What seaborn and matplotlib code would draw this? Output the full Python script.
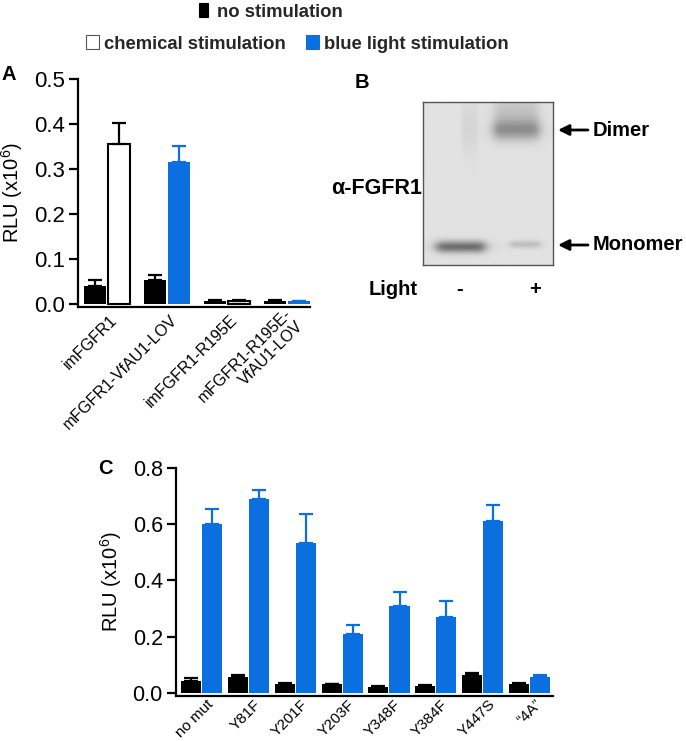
import numpy as np
import pandas as pd
import matplotlib
matplotlib.use("Agg")
import matplotlib.pyplot as plt
import seaborn as sns
from matplotlib.patches import Patch
from matplotlib.transforms import ScaledTranslation

# ---------------- data ----------------
a_groups = ["imFGFR1", "mFGFR1-VfAU1-LOV", "imFGFR1-R195E", "mFGFR1-R195E-\nVfAU1-LOV"]
a_none = [0.040, 0.053, 0.007, 0.006]
a_none_err = [0.014, 0.012, 0.002, 0.002]
a_stim = [0.355, 0.315, 0.007, 0.006]
a_stim_err = [0.047, 0.036, 0.002, 0.001]
a_stim_kind = ["chemical", "blue", "chemical", "blue"]

c_groups = ["no mut", "Y81F", "Y201F", "Y203F", "Y348F", "Y384F", "Y447S", "\u201c4A\u201d"]
c_none = [0.043, 0.058, 0.033, 0.030, 0.022, 0.026, 0.062, 0.033]
c_none_err = [0.009, 0.004, 0.002, 0.002, 0.001, 0.002, 0.008, 0.002]
c_blue = [0.600, 0.688, 0.535, 0.210, 0.310, 0.270, 0.613, 0.055]
c_blue_err = [0.055, 0.034, 0.102, 0.032, 0.050, 0.058, 0.057, 0.008]

legend_labels = ["no stimulation", "chemical stimulation", "blue light stimulation"]

# blot bands: x centre, half width, y centre from top, y sigma, darkness
blot_x = [0.29, 0.72, 0.72, 0.79, 0.36]
blot_hw = [0.19, 0.18, 0.17, 0.12, 0.06]
blot_y = [0.89, 0.17, 0.06, 0.875, 0.15]
blot_sy = [0.026, 0.045, 0.07, 0.016, 0.12]
blot_depth = [0.45, 0.30, 0.12, 0.14, 0.05]

BLUE = "#0b6fe0"
W, H = 686, 741

sns.set_theme(style="white")
plt.rcParams["font.family"] = ["Liberation Sans", "DejaVu Sans"]
plt.rcParams["mathtext.fontset"] = "custom"
plt.rcParams["mathtext.rm"] = "Liberation Sans"
plt.rcParams["mathtext.default"] = "rm"

fig = plt.figure(figsize=(W / 100, H / 100), dpi=100)


def fx(px):
    return px / W


def fy(py):
    return 1 - py / H


def style_axis(ax, tick_fs):
    sns.despine(ax=ax)
    for s in ["left", "bottom"]:
        ax.spines[s].set_linewidth(1.6)
        ax.spines[s].set_color("black")
    ax.tick_params(axis="y", direction="out", length=6.5, width=1.6,
                   labelsize=tick_fs, pad=3, colors="black", left=True)
    ax.tick_params(axis="x", length=0, pad=4, colors="black")
    ax.set_xlabel("")


def add_errors(ax, containers, errs, colors):
    for cont, err, col in zip(containers, errs, colors):
        xs = [p.get_x() + p.get_width() / 2 for p in cont.patches]
        ys = [p.get_height() for p in cont.patches]
        ax.errorbar(xs, ys, yerr=[np.zeros(len(err)), err], fmt="none",
                    ecolor=col, elinewidth=1.6, capsize=5, capthick=1.6, zorder=3)


# ---------------- Panel A ----------------
axA = fig.add_axes([fx(78), fy(307), fx(310) - fx(78), fy(79) - fy(307)])
dfA = pd.DataFrame({
    "group": a_groups * 2,
    "cond": ["none"] * len(a_groups) + ["stim"] * len(a_groups),
    "value": a_none + a_stim,
})
sns.barplot(data=dfA, x="group", y="value", hue="cond", order=a_groups,
            hue_order=["none", "stim"], palette=["black", BLUE], width=0.8, gap=0.12,
            errorbar=None, saturation=1, legend=False, ax=axA)
for p in axA.containers[0].patches:
    p.set_linewidth(0)
for p, kind in zip(axA.containers[1].patches, a_stim_kind):
    if kind == "chemical":
        p.set_facecolor("white")
        p.set_edgecolor("black")
        p.set_linewidth(1.5)
    else:
        p.set_facecolor(BLUE)
        p.set_linewidth(0)
stim_err_colors = ["black" if k == "chemical" else BLUE for k in a_stim_kind]
xsA = [p.get_x() + p.get_width() / 2 for p in axA.containers[0].patches]
axA.errorbar(xsA, a_none, yerr=[np.zeros(4), a_none_err], fmt="none", ecolor="black",
             elinewidth=1.6, capsize=5, capthick=1.6, zorder=3)
for p, v, e, col in zip(axA.containers[1].patches, a_stim, a_stim_err, stim_err_colors):
    axA.errorbar([p.get_x() + p.get_width() / 2], [v], yerr=[[0], [e]], fmt="none",
                 ecolor=col, elinewidth=1.6, capsize=5, capthick=1.6, zorder=3)
axA.set_xlim(-0.483, 3.383)
axA.set_ylim(-0.007, 0.5)
axA.set_yticks([0.0, 0.1, 0.2, 0.3, 0.4, 0.5])
axA.set_yticklabels(["0.0", "0.1", "0.2", "0.3", "0.4", "0.5"])
style_axis(axA, 16)
axA.set_ylabel("RLU (x10$^{6}$)", fontsize=14.5, labelpad=6, color="black")
axA.set_xticks(range(len(a_groups)))
axA.set_xticklabels(a_groups, rotation=45, ha="right", va="center",
                    rotation_mode="anchor", fontsize=11.5)
for lbl in axA.get_xticklabels():
    lbl.set_transform(lbl.get_transform() + ScaledTranslation(0.08, -0.05, fig.dpi_scale_trans))

# ---------------- Panel C ----------------
axC = fig.add_axes([fx(176), fy(696), fx(553) - fx(176), fy(468) - fy(696)])
dfC = pd.DataFrame({
    "group": c_groups * 2,
    "cond": ["none"] * len(c_groups) + ["blue"] * len(c_groups),
    "value": c_none + c_blue,
})
sns.barplot(data=dfC, x="group", y="value", hue="cond", order=c_groups,
            hue_order=["none", "blue"], palette=["black", BLUE], width=0.9, gap=0.05,
            errorbar=None, saturation=1, legend=False, ax=axC)
for cont in axC.containers:
    for p in cont.patches:
        p.set_linewidth(0)
add_errors(axC, axC.containers, [c_none_err, c_blue_err], ["black", BLUE])
axC.set_xlim(-0.544, 7.50)
axC.set_ylim(-0.011, 0.8)
axC.set_yticks([0.0, 0.2, 0.4, 0.6, 0.8])
axC.set_yticklabels(["0.0", "0.2", "0.4", "0.6", "0.8"])
style_axis(axC, 15.5)
axC.set_ylabel("RLU (x10$^{6}$)", fontsize=14.5, labelpad=6, color="black")
axC.set_xticks(range(len(c_groups)))
axC.set_xticklabels(c_groups, rotation=45, ha="right", va="center",
                    rotation_mode="anchor", fontsize=11)
for lbl in axC.get_xticklabels():
    lbl.set_transform(lbl.get_transform() + ScaledTranslation(0.10, -0.005, fig.dpi_scale_trans))

# ---------------- Panel B (blot) ----------------
axB = fig.add_axes([fx(423), fy(265), fx(553) - fx(423), fy(102) - fy(265)])
yy, xx = np.mgrid[0:1:240j, 0:1:190j]
img = np.full_like(xx, 0.885)
for xc, hw, yc, sy, d in zip(blot_x, blot_hw, blot_y, blot_sy, blot_depth):
    prof_x = 1.0 / (1.0 + ((xx - xc) / hw) ** 8)
    prof_y = np.exp(-0.5 * ((yy - yc) / sy) ** 2)
    img -= d * prof_x * prof_y
axB.imshow(img, cmap="gray", vmin=0, vmax=1, extent=(0, 1, 1, 0), aspect="auto",
           interpolation="bilinear")
axB.set_xticks([])
axB.set_yticks([])
for s in axB.spines.values():
    s.set_visible(True)
    s.set_color("#555555")
    s.set_linewidth(1.0)

bold = dict(fontweight="bold", color="black")
fig.text(fx(393), fy(290), "Light", fontsize=14.5, ha="center", va="center", **bold)
fig.text(fx(460), fy(290), "-", fontsize=14.5, ha="center", va="center", **bold)
fig.text(fx(535), fy(290), "+", fontsize=14.5, ha="center", va="center", **bold)
fig.text(fx(422), fy(188), "\u03b1-FGFR1", fontsize=15.5, ha="right", va="center", **bold)
for ypx, txt in [(130, "Dimer"), (245, "Monomer")]:
    fig.text(fx(593), fy(ypx), txt, fontsize=14.5, ha="left", va="center", **bold)
    axB.annotate("", xy=(fx(558), fy(ypx)), xytext=(fx(588), fy(ypx)),
                 xycoords="figure fraction", textcoords="figure fraction",
                 arrowprops=dict(arrowstyle="-|>", color="black", lw=2,
                                 mutation_scale=16, shrinkA=0, shrinkB=0))

# ---------------- panel letters ----------------
fig.text(fx(9), fy(75), "A", fontsize=14.5, ha="center", va="center", **bold)
fig.text(fx(362), fy(82), "B", fontsize=14.5, ha="center", va="center", **bold)
fig.text(fx(105), fy(468), "C", fontsize=14.5, ha="center", va="center", **bold)

# ---------------- legend ----------------
h_none = Patch(facecolor="black", edgecolor="black", linewidth=0.8)
h_chem = Patch(facecolor="white", edgecolor="#555555", linewidth=0.8)
h_blue = Patch(facecolor=BLUE, edgecolor=BLUE, linewidth=0.8)
prop = dict(family="Liberation Sans", weight="bold", size=13.3)
fig.legend([h_none], legend_labels[:1], bbox_to_anchor=(fx(199), fy(12)),
           frameon=False, handlelength=0.5, handleheight=0.8, handletextpad=0.5,
           borderpad=0, borderaxespad=0, loc="center left", prop=prop)
fig.legend([h_chem, h_blue], legend_labels[1:], ncol=2, columnspacing=1.1,
           bbox_to_anchor=(fx(86), fy(44)),
           frameon=False, handlelength=0.72, handleheight=0.8, handletextpad=0.25,
           borderpad=0, borderaxespad=0, loc="center left", prop=prop)

fig.savefig("out.png", dpi=100)
